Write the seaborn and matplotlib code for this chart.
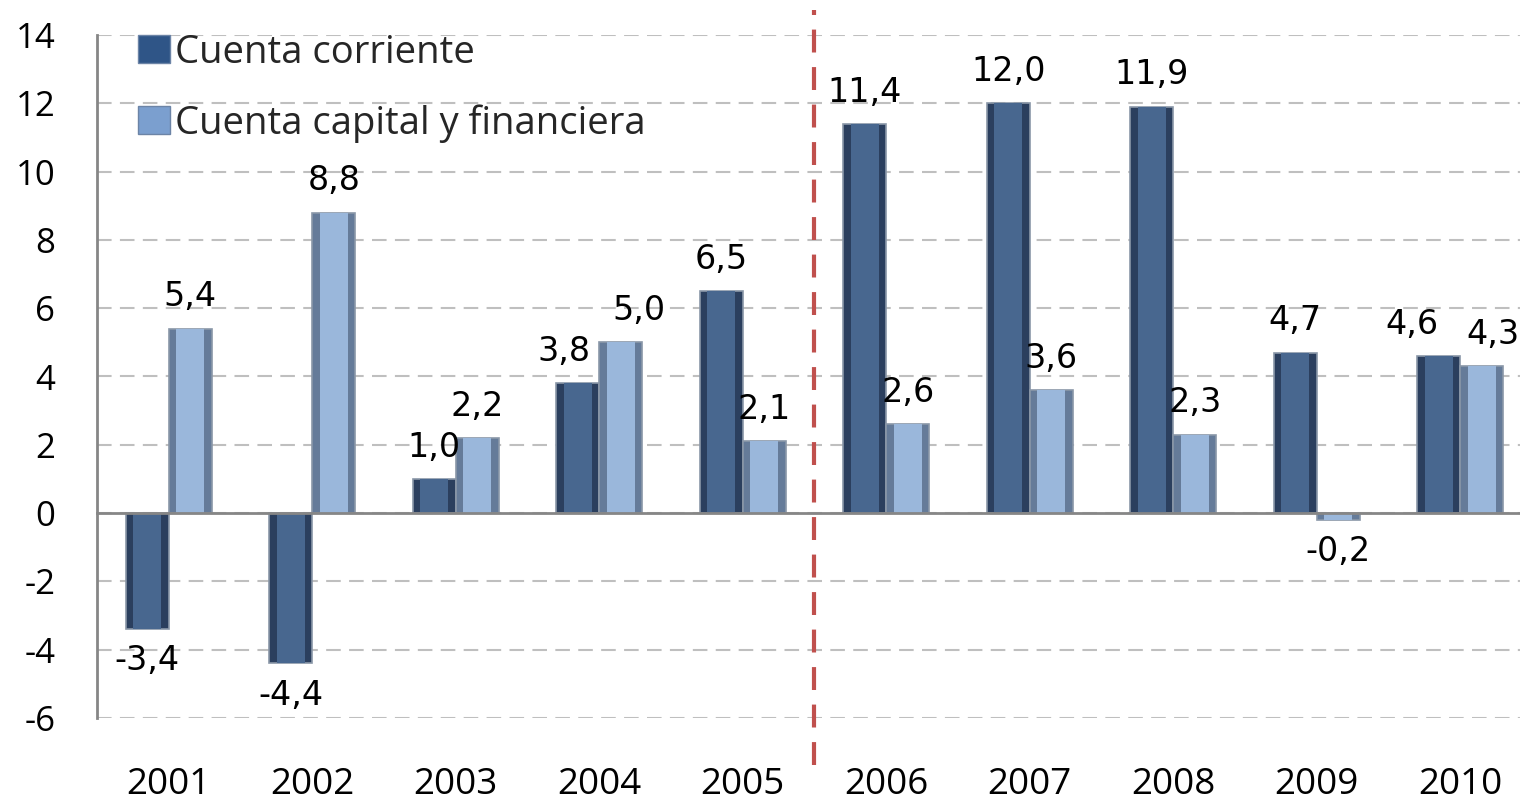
import numpy as np
import pandas as pd
import matplotlib
matplotlib.use("Agg")
import matplotlib.pyplot as plt
from matplotlib.patches import Patch
import seaborn as sns

# data
years = ['2001', '2002', '2003', '2004', '2005', '2006', '2007', '2008', '2009', '2010']
corriente = [-3.4, -4.4, 1.0, 3.8, 6.5, 11.4, 12.0, 11.9, 4.7, 4.6]
capital = [5.4, 8.8, 2.2, 5.0, 2.1, 2.6, 3.6, 2.3, -0.2, 4.3]
series = ['Cuenta corriente', 'Cuenta capital y financiera']
yticks = [-6, -4, -2, 0, 2, 4, 6, 8, 10, 12, 14]

df = pd.DataFrame({
    'year': years * 2,
    'value': corriente + capital,
    'serie': [series[0]] * len(years) + [series[1]] * len(years),
})

sns.set_style('white')
plt.rcParams['axes.unicode_minus'] = False
plt.rcParams['font.family'] = ['DejaVu Sans']

fig = plt.figure(figsize=(15.2, 8.02), dpi=100)
ax = fig.add_axes([97 / 1520, 84 / 802, 1435 / 1520, 683 / 802])

# base bars (dark edges) and a lighter core to suggest the bevel
sns.barplot(data=df, x='year', y='value', hue='serie', hue_order=series,
            palette=['#223E66', '#5C7AA2'], width=0.6, legend=False,
            edgecolor='#8A97A8', linewidth=1.2, ax=ax, zorder=3)
sns.barplot(data=df, x='year', y='value', hue='serie', hue_order=series,
            palette=['#3C669B', '#8FB6E6'], width=0.6, gap=0.35, legend=False,
            linewidth=0, ax=ax, zorder=4)

ax.set_xlim(-0.5, 9.5)
ax.set_ylim(-6, 14)
ax.set_yticks(yticks)
ax.set_yticklabels([str(t) for t in yticks])
ax.set_xlabel('')
ax.set_ylabel('')

ax.grid(axis='y', color='#BFBFBF', linewidth=1.5, linestyle=(0, (7, 4)), zorder=0)
ax.grid(axis='x', visible=False)

for s in ['top', 'right']:
    ax.spines[s].set_visible(False)
ax.spines['left'].set_color('#868686')
ax.spines['left'].set_linewidth(2)
ax.spines['bottom'].set_position(('data', 0))
ax.spines['bottom'].set_color('#868686')
ax.spines['bottom'].set_linewidth(2)
ax.spines['bottom'].set_zorder(5)

ax.set_xticks(np.arange(-0.5, 10, 1), minor=True)
ax.tick_params(axis='x', which='major', length=0, pad=183,
               labelsize=26.5, labelcolor='black')
ax.tick_params(axis='x', which='minor', length=8, width=2, color='#868686',
               direction='out')
ax.tick_params(axis='y', length=8, width=2, color='#868686', direction='out',
               pad=22, labelsize=25, labelcolor='black')
for lab in ax.get_xticklabels() + ax.get_yticklabels():
    lab.set_family(['Open Sans', 'DejaVu Sans'])

# data labels, with small sideways nudges where Excel spread crowded ones
nudge_c = [0, 0, 0, -10, 0, 0, 0, 0, 0, -19]
nudge_k = [0, 0, 0, 13, 0, 0, 0, 0, 0, 8]
for cont, vals, nudge in zip(ax.containers[:2], [corriente, capital], [nudge_c, nudge_k]):
    texts = ax.bar_label(cont, labels=[f'{v:.1f}'.replace('.', ',') for v in vals],
                         padding=11, fontsize=24, color='black', zorder=6)
    for t, dx in zip(texts, nudge):
        ox, oy = t.xyann
        t.xyann = (ox + dx, oy)

# red dashed separator between 2005 and 2006
ax.axvline(4.5, ymin=-0.069, ymax=1.037, color='#C0504D', linewidth=3,
           linestyle=(0, (5.5, 3.5)), clip_on=False, zorder=7)

handles = [Patch(facecolor='#2F5587', edgecolor='#6C84A6'),
           Patch(facecolor='#7B9FCF', edgecolor='#6C84A6')]
ax.legend(handles, series, loc='upper left', bbox_to_anchor=(0.015, 1.03),
          frameon=False, borderpad=0, handlelength=0.85, handleheight=0.75,
          handletextpad=0.12, labelspacing=0.85,
          prop={'family': ['Open Sans', 'DejaVu Sans'], 'size': 27.5})

plt.savefig('out.png', dpi=100)
